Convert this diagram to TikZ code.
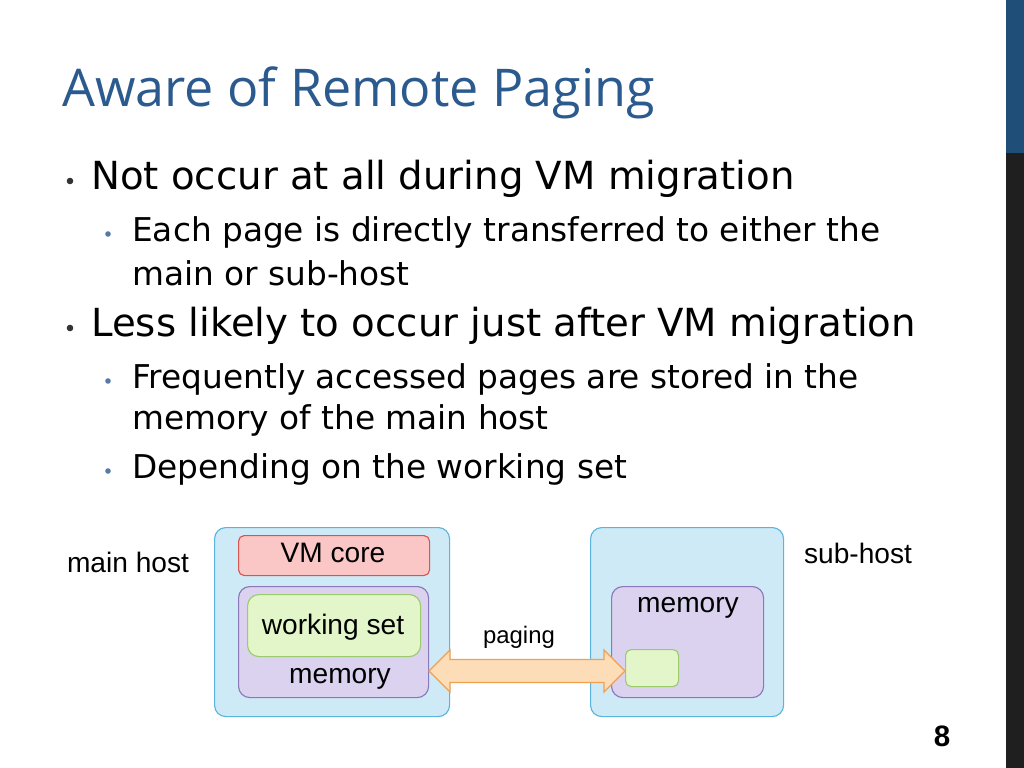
\documentclass[tikz,border=0pt]{standalone}
\usepackage{fontspec}
\setmainfont{DejaVu Sans}
\newfontfamily\titlefont{Open Sans}
\newfontfamily\labelfont{Liberation Sans}
\usetikzlibrary{shapes.arrows, positioning}
\definecolor{barblue}{HTML}{1F4E79}
\definecolor{titleblue}{HTML}{2B5A8E}
\definecolor{hostfill}{HTML}{CFEAF7}
\definecolor{hostline}{HTML}{5AB4DC}
\definecolor{corefill}{HTML}{FBC6C6}
\definecolor{coreline}{HTML}{D9534F}
\definecolor{memfill}{HTML}{DAD2EF}
\definecolor{memline}{HTML}{8A78B8}
\definecolor{setfill}{HTML}{E3F6C9}
\definecolor{setline}{HTML}{9BCB6C}
\definecolor{pagefill}{HTML}{FDDDB7}
\definecolor{pageline}{HTML}{F0A04E}
\tikzset{
  box/.style={draw, rounded corners=8pt, line width=0.8pt, anchor=north west, inner sep=0pt},
  lbl/.style={font=\labelfont\fontsize{20}{20}\selectfont, inner sep=0pt},
  lvlone/.style={anchor=west, inner sep=0pt, font=\fontsize{27.5}{27.5}\selectfont},
  lvltwo/.style={anchor=west, inner sep=0pt, font=\fontsize{23.3}{23.3}\selectfont},
}
\begin{document}
\begin{tikzpicture}[x=0.025cm, y=-0.025cm]
    \useasboundingbox (0,0) rectangle (1024,768);
    % side bar
    \fill[black!88] (1006,0) rectangle (1024,768);
    \fill[barblue] (1006,0) rectangle (1024,153);

    % title and bullets
    \node[anchor=west, inner sep=0pt, text=titleblue, font=\titlefont\fontsize{37}{37}\selectfont] (title) at (62,93) {Aware of Remote Paging};
    \node[lvlone] (b1) at (91,179) {Not occur at all during VM migration};
    \node[lvlone] (b2) at (91,326) {Less likely to occur just after VM migration};
    \node[lvltwo] (s1) at (132,232) {Each page is directly transferred to either the};
    \node[lvltwo] (s1b) at (132,273) {main or sub-host};
    \node[lvltwo] (s2) at (132,379) {Frequently accessed pages are stored in the};
    \node[lvltwo] (s2b) at (132,420) {memory of the main host};
    \node[lvltwo] (s3) at (132,469) {Depending on the working set};
    \foreach \y in {181,328} \fill[black!80] (70,\y) circle (3.3);
    \foreach \y in {234,381,471} \fill[titleblue!80] (108,\y) circle (2.8);

    % hosts
    \node[box, fill=hostfill, draw=hostline, minimum width=235*0.025cm, minimum height=189*0.025cm] (mainhost) at (214,527) {};
    \node[box, fill=hostfill, draw=hostline, minimum width=193*0.025cm, minimum height=189*0.025cm] (subhost) at (590,527) {};
    \node[box, fill=corefill, draw=coreline, rounded corners=4pt, minimum width=191*0.025cm, minimum height=40*0.025cm] (vmcore) at (238,535) {};
    \node[lbl] at (333,553) {VM core};
    \node[box, fill=memfill, draw=memline, minimum width=190*0.025cm, minimum height=111*0.025cm] (mainmem) at (238,586) {};
    \node[box, fill=setfill, draw=setline, minimum width=173*0.025cm, minimum height=62*0.025cm] (workset) at (247,594) {};
    \node[lbl] at (333,627) {working set};
    \node[lbl] at (340,679) {memory};
    \node[box, fill=memfill, draw=memline, minimum width=152*0.025cm, minimum height=111*0.025cm] (submem) at (611,586) {};
    \node[lbl] at (688,608) {memory};
    \node[box, fill=setfill, draw=setline, rounded corners=4pt, minimum width=53*0.025cm, minimum height=37*0.025cm] (subset) at (625,649) {};

    % paging arrow
    \node[double arrow, draw=pageline, fill=pagefill, line width=0.8pt, minimum width=42*0.025cm, double arrow head extend=0.22cm, inner sep=0.25cm, minimum height=196*0.025cm] (paging) at (527,671) {};
    \node[lbl, font=\labelfont\fontsize{17}{17}\selectfont] at (519,637) {paging};

    % host labels
    \node[lbl] at (128,562) {main host};
    \node[lbl] at (858,553) {sub-host};
    \node[font=\labelfont\bfseries\fontsize{21}{21}\selectfont] at (942,736) {8};
\end{tikzpicture}
\end{document}
